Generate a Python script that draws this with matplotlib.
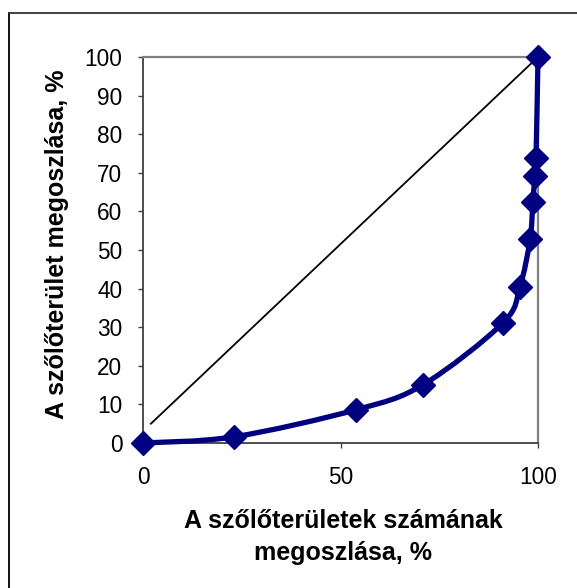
import matplotlib
matplotlib.use("Agg")
import matplotlib.pyplot as plt
from matplotlib.path import Path
from matplotlib.patches import PathPatch
from matplotlib.lines import Line2D
import numpy as np

plt.rcParams['font.family'] = ['Liberation Sans', 'DejaVu Sans']

# Data (Lorenz curve)
x_share = [0, 23.0, 53.9, 70.9, 91.1, 95.4, 98.0, 98.7, 99.2, 99.5, 100]
y_share = [0, 1.6, 8.6, 15.1, 31.1, 40.4, 52.8, 62.4, 69.2, 73.8, 100]
diag_x = [2, 100]
diag_y = [5, 100]
x_ticks = [0, 50, 100]
y_ticks = [0, 10, 20, 30, 40, 50, 60, 70, 80, 90, 100]
x_label = "A szőlőterületek számának\nmegoszlása, %"
y_label = "A szőlőterület megoszlása, %"

W, H = 577, 588
fig = plt.figure(figsize=(W / 100, H / 100), dpi=100)
ax = fig.add_axes([143 / W, 1 - 443 / H, (538 - 143) / W, (443 - 57) / H])
ax.set_xlim(0, 100)
ax.set_ylim(0, 100)

navy = '#000080'

# diagonal
ax.plot(diag_x, diag_y, color='black', lw=1.3, zorder=2)

# smoothed curve (Catmull-Rom Bezier, as Excel smoothing)
P = np.column_stack([x_share, y_share]).astype(float)
n = len(P)
verts = [tuple(P[0])]
codes = [Path.MOVETO]
for i in range(n - 1):
    p0 = P[i - 1] if i > 0 else P[i]
    p1 = P[i]
    p2 = P[i + 1]
    p3 = P[i + 2] if i + 2 < n else P[i + 1]
    c1 = p1 + (p2 - p0) / 6.0
    c2 = p2 - (p3 - p1) / 6.0
    verts += [tuple(c1), tuple(c2), tuple(p2)]
    codes += [Path.CURVE4] * 3
patch = PathPatch(Path(verts, codes), facecolor='none', edgecolor=navy,
                  lw=3.8, capstyle='round', joinstyle='round', zorder=3,
                  clip_on=False)
ax.add_patch(patch)
ax.plot(x_share, y_share, linestyle='none', marker='D', markersize=12,
        markerfacecolor=navy, markeredgecolor=navy, markeredgewidth=1,
        zorder=4, clip_on=False)

# spines
for s in ['top', 'right']:
    ax.spines[s].set_color('#808080')
    ax.spines[s].set_linewidth(1.6)
for s in ['left', 'bottom']:
    ax.spines[s].set_color('#404040')
    ax.spines[s].set_linewidth(1.3)

ax.set_xticks(x_ticks)
ax.set_yticks(y_ticks)
ax.tick_params(axis='both', direction='out', length=3.8, width=1, color='#404040',
               labelsize=16.3)
ax.tick_params(axis='y', pad=11)
ax.tick_params(axis='x', pad=13)

fig.text(343 / W, 1 - 537 / H, x_label, ha='center', va='center',
         fontsize=18, fontweight='bold', linespacing=1.4)
fig.text(57 / W, 1 - 244 / H, y_label, ha='center', va='center',
         rotation=90, fontsize=18, fontweight='bold')

# outer chart border (top and left visible)
fig.add_artist(Line2D([9 / W, 9 / W], [0, 1 - 13 / H], transform=fig.transFigure,
                      color='black', lw=1.3))
fig.add_artist(Line2D([9 / W, 1], [1 - 13 / H, 1 - 13 / H], transform=fig.transFigure,
                      color='#333333', lw=1.3))

fig.savefig('out.png', dpi=100)
